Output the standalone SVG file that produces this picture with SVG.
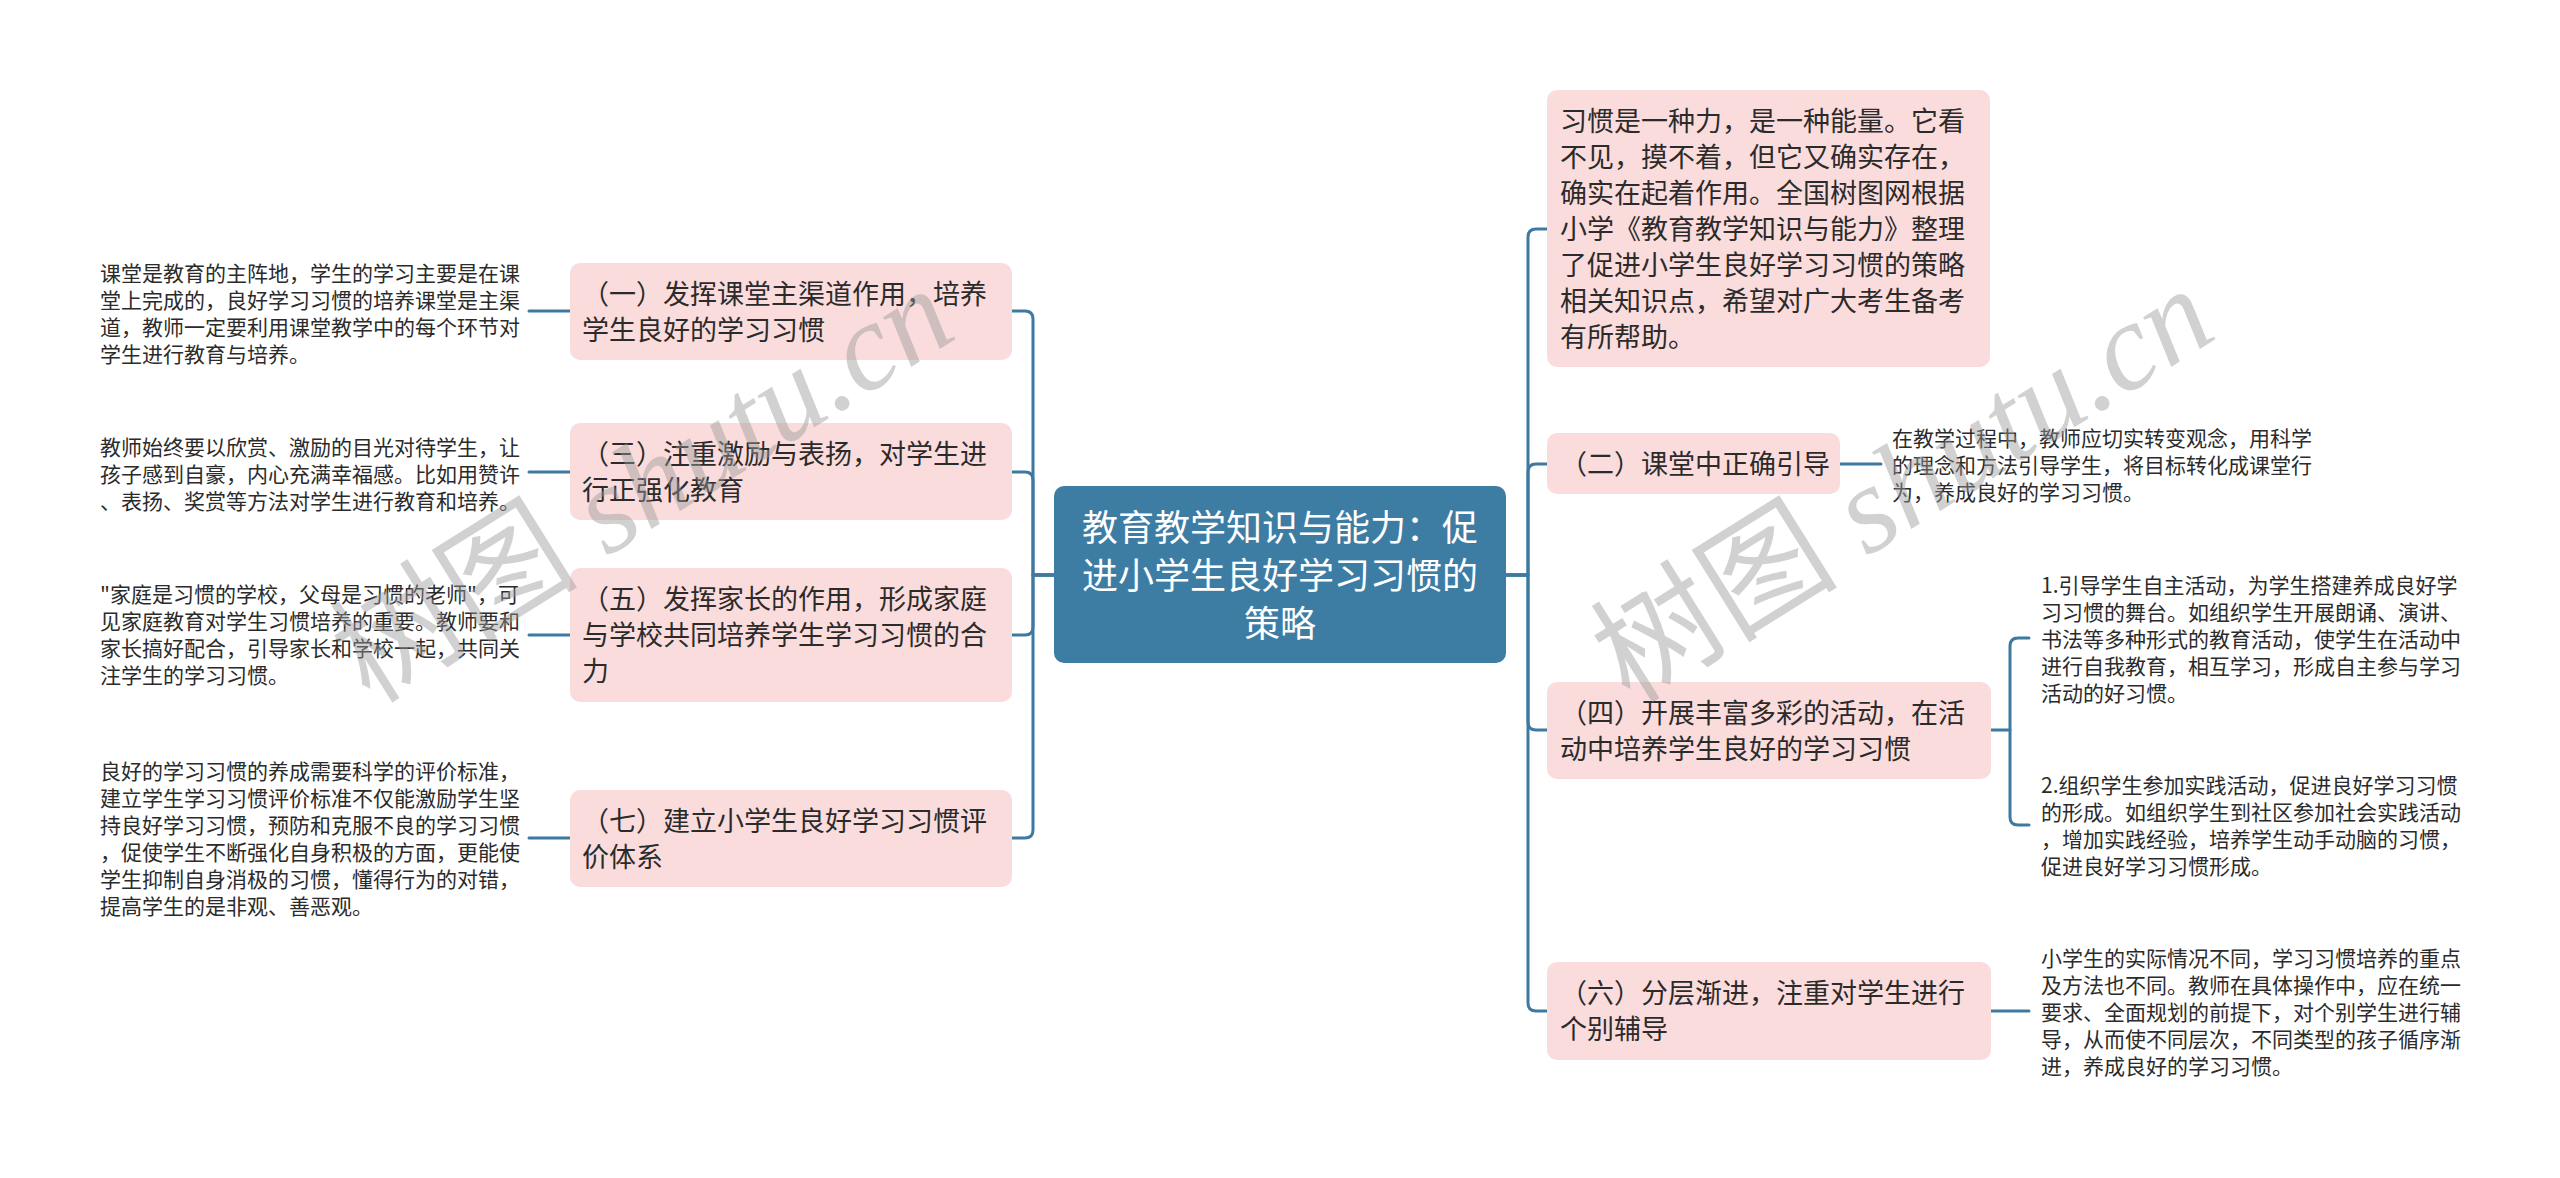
<svg xmlns="http://www.w3.org/2000/svg" width="2560" height="1178" viewBox="0 0 2560 1178">
<style>
.bg{fill:#ffffff}
.pink{fill:#fbdcdc}
.root{fill:#3d7da4}
.con{fill:none;stroke:#3e7aa0;stroke-width:3;stroke-linecap:round;stroke-linejoin:round}
.nt{font-family:"Noto Sans CJK SC","Noto Sans",sans-serif;font-size:27px;fill:#2b2b2b}
.rt{font-family:"Noto Sans CJK SC","Noto Sans",sans-serif;font-size:36px;fill:#ffffff;text-anchor:middle}
.dt{font-family:"Noto Sans CJK SC","Noto Sans",sans-serif;font-size:21px;fill:#2b2b2b}
.wm{font-family:"Liberation Serif","Noto Sans CJK SC",serif;font-size:124px;fill:#9a9a9a;fill-opacity:0.45}
</style>
<rect class="bg" x="0" y="0" width="2560" height="1178"/>

<g id="connectors">
  <!-- left side -->
  <path class="con" d="M1054,575 H1033 V319 Q1033,311 1025,311 H1012"/>
  <path class="con" d="M1054,575 H1033 V480 Q1033,472 1025,472 H1012"/>
  <path class="con" d="M1054,575 H1033 V627 Q1033,635 1025,635 H1012"/>
  <path class="con" d="M1054,575 H1033 V830 Q1033,838 1025,838 H1012"/>
  <path class="con" d="M570,311 H529"/>
  <path class="con" d="M570,472 H529"/>
  <path class="con" d="M570,635 H529"/>
  <path class="con" d="M570,838 H529"/>
  <!-- right side -->
  <path class="con" d="M1506,575 H1528 V237 Q1528,229 1536,229 H1547"/>
  <path class="con" d="M1506,575 H1528 V472 Q1528,464 1536,464 H1547"/>
  <path class="con" d="M1506,575 H1528 V722 Q1528,730 1536,730 H1547"/>
  <path class="con" d="M1506,575 H1528 V1003 Q1528,1011 1536,1011 H1547"/>
  <path class="con" d="M1840,464 H1881"/>
  <path class="con" d="M1991,730 H2010"/>
  <path class="con" d="M2029,638 H2018 Q2010,638 2010,646 V817 Q2010,825 2018,825 H2029"/>
  <path class="con" d="M1991,1011 H2029"/>
</g>

<g id="root">
  <rect class="root" x="1054" y="486" width="452" height="177" rx="10"/>
  <text class="rt" x="1280" y="541">教育教学知识与能力：促</text>
  <text class="rt" x="1280" y="589">进小学生良好学习习惯的</text>
  <text class="rt" x="1280" y="637">策略</text>
</g>

<g id="n1">
  <rect class="pink" x="570" y="263" width="442" height="97" rx="10"/>
  <text class="nt" x="582" y="304">（一）发挥课堂主渠道作用，培养</text>
  <text class="nt" x="582" y="340">学生良好的学习习惯</text>
</g>
<g id="n1d">
  <text class="dt" x="100" y="281">课堂是教育的主阵地，学生的学习主要是在课</text>
  <text class="dt" x="100" y="308">堂上完成的，良好学习习惯的培养课堂是主渠</text>
  <text class="dt" x="100" y="335">道，教师一定要利用课堂教学中的每个环节对</text>
  <text class="dt" x="100" y="362">学生进行教育与培养。</text>
</g>

<g id="n3">
  <rect class="pink" x="570" y="423" width="442" height="97" rx="10"/>
  <text class="nt" x="582" y="464">（三）注重激励与表扬，对学生进</text>
  <text class="nt" x="582" y="500">行正强化教育</text>
</g>
<g id="n3d">
  <text class="dt" x="100" y="455">教师始终要以欣赏、激励的目光对待学生，让</text>
  <text class="dt" x="100" y="482">孩子感到自豪，内心充满幸福感。比如用赞许</text>
  <text class="dt" x="100" y="509">、表扬、奖赏等方法对学生进行教育和培养。</text>
</g>

<g id="n5">
  <rect class="pink" x="570" y="568" width="442" height="134" rx="10"/>
  <text class="nt" x="582" y="609">（五）发挥家长的作用，形成家庭</text>
  <text class="nt" x="582" y="645">与学校共同培养学生学习习惯的合</text>
  <text class="nt" x="582" y="681">力</text>
</g>
<g id="n5d">
  <text class="dt" x="100" y="602">"家庭是习惯的学校，父母是习惯的老师"，可</text>
  <text class="dt" x="100" y="629">见家庭教育对学生习惯培养的重要。教师要和</text>
  <text class="dt" x="100" y="656">家长搞好配合，引导家长和学校一起，共同关</text>
  <text class="dt" x="100" y="683">注学生的学习习惯。</text>
</g>

<g id="n7">
  <rect class="pink" x="570" y="790" width="442" height="97" rx="10"/>
  <text class="nt" x="582" y="831">（七）建立小学生良好学习习惯评</text>
  <text class="nt" x="582" y="867">价体系</text>
</g>
<g id="n7d">
  <text class="dt" x="100" y="779">良好的学习习惯的养成需要科学的评价标准，</text>
  <text class="dt" x="100" y="806">建立学生学习习惯评价标准不仅能激励学生坚</text>
  <text class="dt" x="100" y="833">持良好学习习惯，预防和克服不良的学习习惯</text>
  <text class="dt" x="100" y="860">，促使学生不断强化自身积极的方面，更能使</text>
  <text class="dt" x="100" y="887">学生抑制自身消极的习惯，懂得行为的对错，</text>
  <text class="dt" x="100" y="914">提高学生的是非观、善恶观。</text>
</g>

<g id="intro">
  <rect class="pink" x="1547" y="90" width="443" height="277" rx="10"/>
  <text class="nt" x="1560" y="131">习惯是一种力，是一种能量。它看</text>
  <text class="nt" x="1560" y="167">不见，摸不着，但它又确实存在，</text>
  <text class="nt" x="1560" y="203">确实在起着作用。全国树图网根据</text>
  <text class="nt" x="1560" y="239">小学《教育教学知识与能力》整理</text>
  <text class="nt" x="1560" y="275">了促进小学生良好学习习惯的策略</text>
  <text class="nt" x="1560" y="311">相关知识点，希望对广大考生备考</text>
  <text class="nt" x="1560" y="347">有所帮助。</text>
</g>

<g id="n2">
  <rect class="pink" x="1547" y="433" width="293" height="61" rx="10"/>
  <text class="nt" x="1560" y="474">（二）课堂中正确引导</text>
</g>
<g id="n2d">
  <text class="dt" x="1892" y="446">在教学过程中，教师应切实转变观念，用科学</text>
  <text class="dt" x="1892" y="473">的理念和方法引导学生，将目标转化成课堂行</text>
  <text class="dt" x="1892" y="500">为，养成良好的学习习惯。</text>
</g>

<g id="n4">
  <rect class="pink" x="1547" y="682" width="444" height="97" rx="10"/>
  <text class="nt" x="1560" y="723">（四）开展丰富多彩的活动，在活</text>
  <text class="nt" x="1560" y="759">动中培养学生良好的学习习惯</text>
</g>
<g id="n4a">
  <text class="dt" x="2041" y="593">1.引导学生自主活动，为学生搭建养成良好学</text>
  <text class="dt" x="2041" y="620">习习惯的舞台。如组织学生开展朗诵、演讲、</text>
  <text class="dt" x="2041" y="647">书法等多种形式的教育活动，使学生在活动中</text>
  <text class="dt" x="2041" y="674">进行自我教育，相互学习，形成自主参与学习</text>
  <text class="dt" x="2041" y="701">活动的好习惯。</text>
</g>
<g id="n4b">
  <text class="dt" x="2041" y="793">2.组织学生参加实践活动，促进良好学习习惯</text>
  <text class="dt" x="2041" y="820">的形成。如组织学生到社区参加社会实践活动</text>
  <text class="dt" x="2041" y="847">，增加实践经验，培养学生动手动脑的习惯，</text>
  <text class="dt" x="2041" y="874">促进良好学习习惯形成。</text>
</g>

<g id="n6">
  <rect class="pink" x="1547" y="962" width="444" height="98" rx="10"/>
  <text class="nt" x="1560" y="1003">（六）分层渐进，注重对学生进行</text>
  <text class="nt" x="1560" y="1039">个别辅导</text>
</g>
<g id="n6d">
  <text class="dt" x="2041" y="966">小学生的实际情况不同，学习习惯培养的重点</text>
  <text class="dt" x="2041" y="993">及方法也不同。教师在具体操作中，应在统一</text>
  <text class="dt" x="2041" y="1020">要求、全面规划的前提下，对个别学生进行辅</text>
  <text class="dt" x="2041" y="1047">导，从而使不同层次，不同类型的孩子循序渐</text>
  <text class="dt" x="2041" y="1074">进，养成良好的学习习惯。</text>
</g>

<g id="watermark">
  <text class="wm" transform="translate(370,705) rotate(-32)">树图 <tspan font-style="italic">shutu.cn</tspan></text>
  <text class="wm" transform="translate(1630,705) rotate(-32)">树图 <tspan font-style="italic">shutu.cn</tspan></text>
</g>
</svg>
